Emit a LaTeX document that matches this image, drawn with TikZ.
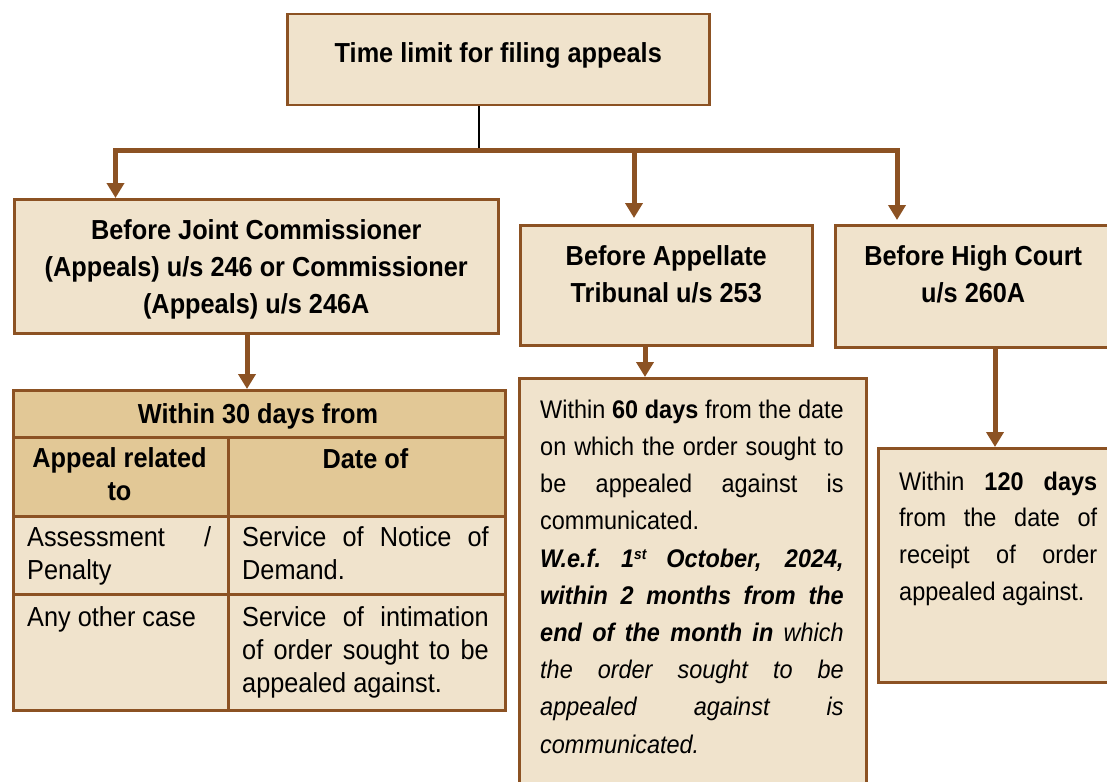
\documentclass[tikz,border=0pt]{standalone}
\usepackage{fontspec}
\setmainfont{Liberation Sans}[FakeStretch=0.92]
\usetikzlibrary{arrows.meta,calc}
\definecolor{boxfill}{RGB}{240,227,204}
\definecolor{headfill}{RGB}{226,200,150}
\definecolor{brn}{RGB}{140,82,35}
\newcommand\J[2]{\hbox to #1{\spaceskip=.25em plus 1fil minus .12em\xspaceskip=\spaceskip #2}}
\newcommand\C[2]{\hbox to #1{\hfil #2\hfil}}
\tikzset{
  box/.style={draw=brn, line width=2.5pt, fill=boxfill, inner sep=0pt, anchor=north west},
  cell/.style={draw=brn, line width=2.5pt, fill=boxfill, inner sep=0pt, anchor=north west},
  headcell/.style={cell, fill=headfill},
  arr/.style={draw=brn, line width=5pt, -{Triangle[width=17pt,length=15pt]}},
  bar/.style={draw=brn, line width=5pt},
  hfont/.style={inner sep=0pt, font=\fontsize{27.5}{37}\selectfont\bfseries, align=center},
  ttxt/.style={inner sep=0pt, anchor=base west, font=\fontsize{27.5}{33}\selectfont},
  btxt/.style={inner sep=0pt, anchor=base west, font=\fontsize{25.5}{37.2}\selectfont}
}
\begin{document}
\begin{tikzpicture}[x=1pt,y=-1pt]
\useasboundingbox (0,0) rectangle (1107,781);
\clip (0,0) rectangle (1107,781);

% top box
\node[box, minimum width=422pt, minimum height=91pt] (top) at (286,13) {};
\node[hfont] (toptxt) at ($(top.center)+(0,-4)$) {Time limit for filing appeals};

% level-1 boxes
\node[box, minimum width=484pt, minimum height=134pt] (b1) at (13,198) {};
\node[hfont] (b1txt) at ($(b1.center)+(0,3)$)
  {Before Joint Commissioner\\(Appeals) u/s 246 or Commissioner\\(Appeals) u/s 246A};
\node[box, minimum width=292pt, minimum height=120pt] (b2) at (519,224) {};
\node[hfont] (b2txt) at ($(b2.center)+(0,-11)$) {Before Appellate\\Tribunal u/s 253};
\node[box, minimum width=276pt, minimum height=122pt] (b3) at (834,224) {};
\node[hfont] (b3txt) at ($(b3.center)+(0,-12)$) {Before High Court\\u/s 260A};

% connectors from top
\coordinate (j) at (479,150);
\coordinate (bl) at (115.5,150);
\coordinate (bm) at (634,150);
\coordinate (br) at (897,150);
\draw[black, line width=1.2pt] (top.south -| j) -- (j);
\draw[bar] (113,150) -- (900,150);
\draw[arr] (bl) -- (bl |- b1.north);
\draw[arr] (bm) -- ($(bm |- b2.north)+(0,-6)$);
\draw[arr] (br) -- ($(br |- b3.north)+(0,-4)$);

% table
\node[headcell, minimum width=492pt, minimum height=47pt] (h) at (12,389) {};
\node[headcell, minimum width=215pt, minimum height=79pt] (c21) at (12,436) {};
\node[headcell, minimum width=277pt, minimum height=79pt] (c22) at (227,436) {};
\node[cell, minimum width=215pt, minimum height=78pt] (c31) at (12,515) {};
\node[cell, minimum width=277pt, minimum height=78pt] (c32) at (227,515) {};
\node[cell, minimum width=215pt, minimum height=116pt] (c41) at (12,593) {};
\node[cell, minimum width=277pt, minimum height=116pt] (c42) at (227,593) {};

\node[ttxt, font=\fontsize{27.5}{33}\selectfont\bfseries, anchor=base] (th) at (258,423) {Within 30 days from};
\node[ttxt, font=\fontsize{27.5}{33}\selectfont\bfseries, anchor=base] (t21) at (119.5,467)
  {\vtop{\baselineskip=33pt \C{205pt}{Appeal related}\C{205pt}{to}}};
\node[ttxt, font=\fontsize{27.5}{33}\selectfont\bfseries, anchor=base] (t22) at (365.5,468) {Date of};
\node[ttxt] (t31) at (27,546.7)
  {\vtop{\baselineskip=33pt \J{184pt}{Assessment /}\hbox{Penalty}}};
\node[ttxt] (t32) at (242,546.7)
  {\vtop{\baselineskip=33pt \J{246.5pt}{Service of Notice of}\hbox{Demand.}}};
\node[ttxt] (t41) at (27,626) {Any other case};
\node[ttxt] (t42) at (242,626)
  {\vtop{\baselineskip=33.3pt \J{246.5pt}{Service of intimation}\J{246.5pt}{of order sought to be}\hbox{appealed against.}}};

% box 4 (tribunal)
\node[box, minimum width=347pt, minimum height=420pt] (b4) at (518,377) {};
\node[btxt] (t4) at (540,418.3)
  {\vtop{\baselineskip=37.2pt
   \J{303.5pt}{Within \textbf{60 days} from the date}
   \J{303.5pt}{on which the order sought to}
   \J{303.5pt}{be appealed against is}
   \hbox{communicated.}
   \J{303.5pt}{\textbf{\textit{W.e.f. 1{\fontsize{15}{15}\selectfont\raisebox{7.5pt}{st}} October, 2024,}}}
   \J{303.5pt}{\textbf{\textit{within 2 months from the}}}
   \J{303.5pt}{\textbf{\textit{end of the month in}} \textit{which}}
   \J{303.5pt}{\textit{the order sought to be}}
   \J{303.5pt}{\textit{appealed against is}}
   \hbox{\textit{communicated.}}}};

% box 5 (high court)
\node[box, minimum width=240pt, minimum height=234pt] (b5) at (877,447) {};
\node[btxt] (t5) at (899,490)
  {\vtop{\baselineskip=36.7pt
   \J{198pt}{Within \textbf{120 days}}
   \J{198pt}{from the date of}
   \J{198pt}{receipt of order}
   \hbox{appealed against.}}};

% lower arrows
\coordinate (a1) at (247,0);
\coordinate (a2) at (645,0);
\coordinate (a3) at (995,0);
\draw[arr] (b1.south -| a1) -- (h.north -| a1);
\draw[arr] (b2.south -| a2) -- (b4.north -| a2);
\draw[arr] (b3.south -| a3) -- (b5.north -| a3);
\end{tikzpicture}
\end{document}
